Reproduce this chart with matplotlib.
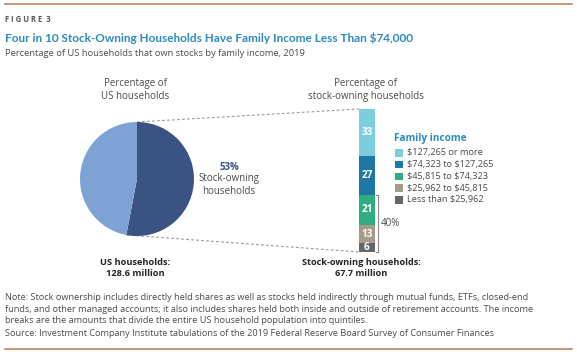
import numpy as np
import matplotlib
matplotlib.use("Agg")
import matplotlib.pyplot as plt

# data
pie_labels = ["Stock-owning households", "Other households"]
pie_values = [53, 47]
income_groups = ["Less than $25,962", "$25,962 to $45,815", "$45,815 to $74,323",
                 "$74,323 to $127,265", "$127,265 or more"]
income_shares = [6, 13, 21, 27, 33]
bracket_share = 40

pie_colors = ["#3b5383", "#7fa2d4"]
bar_colors = ["#65656d", "#a69b89", "#2fac80", "#1f77a7", "#7dcde0"]
blue = "#2b8bbd"
gray = "#4a4a4a"

plt.rcParams['font.family'] = ['Open Sans', 'DejaVu Sans']

W, H = 577, 356
fig = plt.figure(figsize=(W / 100, H / 100), dpi=100)

# overlay axes in pixel coords
ov = fig.add_axes([0, 0, 1, 1])
ov.set_xlim(0, W)
ov.set_ylim(H, 0)
ov.axis("off")

# header / footer rules
rule = "#bd8460"
ov.plot([5, 572], [4, 4], color=rule, lw=1.2)
ov.plot([5, 572], [349, 349], color=rule, lw=1.2)

ov.text(5, 20, "F I G U R E  3", fontsize=5.5, fontweight="bold", color="#555555", va="center")
ov.text(5, 38, "Four in 10 Stock-Owning Households Have Family Income Less Than $74,000",
        fontsize=8.5, fontweight="bold", color=blue, va="center", family="Lato",
        parse_math=False)
ov.text(5, 54, "Percentage of US households that own stocks by family income, 2019",
        fontsize=6.75, color=gray, va="center")

# pie
cx, cy, r = 137, 179, 57
pad = 1.25 * r
pax = fig.add_axes([(cx - pad) / W, (H - cy - pad) / H, 2 * pad / W, 2 * pad / H])
pax.pie(pie_values, colors=pie_colors, startangle=90, counterclock=False,
        wedgeprops=dict(linewidth=0))
pax.set_aspect("equal")

# stacked bar
bx0, bx1, by0, by1 = 359, 375, 109, 252
bax = fig.add_axes([bx0 / W, (H - by1) / H, (bx1 - bx0) / W, (by1 - by0) / H])
bottom = 0
for val, col in zip(income_shares, bar_colors):
    bax.bar(0, val, bottom=bottom, width=1, color=col, linewidth=0)
    bax.text(0, bottom + val / 2, str(val), ha="center", va="center", color="white",
             fontsize=7.2, fontweight="bold")
    bottom += val
bax.set_xlim(-0.5, 0.5)
bax.set_ylim(0, sum(income_shares))
bax.axis("off")

# dashed connectors
end_ang = np.deg2rad(90 - 360 * pie_values[0] / 100)
ov.plot([cx, bx0], [cy - r, by0], ls=(0, (2.5, 2)), color="#999999", lw=0.8)
ov.plot([cx + r * np.cos(end_ang), bx0], [cy - r * np.sin(end_ang), by1],
        ls=(0, (2.5, 2)), color="#999999", lw=0.8)

# pie labels
ov.text(135, 90, "Percentage of\nUS households", ha="center", va="center",
        fontsize=7, color=gray, linespacing=1.15)
ov.text(229, 168, f"{pie_values[0]}%", ha="center", va="center", fontsize=7,
        fontweight="bold", color=pie_colors[0])
ov.text(229, 185, "Stock-owning\nhouseholds", ha="center", va="center",
        fontsize=7, color=gray, linespacing=1.2)
ov.text(135, 268, "US households:\n128.6 million", ha="center", va="center",
        fontsize=6.7, fontweight="bold", color="#222222", linespacing=1.15)

ov.text(366, 90, "Percentage of\nstock-owning households", ha="center", va="center",
        fontsize=7, color=gray, linespacing=1.15)
ov.text(361, 268, "Stock-owning households:\n67.7 million", ha="center", va="center",
        fontsize=6.6, fontweight="bold", color="#222222", linespacing=1.15)

# 40% bracket
top40 = by1 - (by1 - by0) * bracket_share / 100
ov.plot([378, 378], [top40, by1], color="#888888", lw=0.8)
ov.plot([376, 378], [top40, top40], color="#888888", lw=0.8)
ov.plot([376, 378], [by1, by1], color="#888888", lw=0.8)
ov.text(381, (top40 + by1) / 2, f"{bracket_share}%", va="center", fontsize=7, color=gray)

# legend
ov.text(394, 138, "Family income", va="center", fontsize=7.2, fontweight="bold", color=blue)
for i, (lab, col) in enumerate(zip(income_groups[::-1], bar_colors[::-1])):
    y = 153 + i * 11.7
    ov.add_patch(plt.Rectangle((395, y - 3.8), 8, 7.6, color=col, lw=0))
    ov.text(407, y, lab, va="center", fontsize=6.6, color=gray, parse_math=False)

# notes
note = ("Note: Stock ownership includes directly held shares as well as stocks held indirectly through mutual funds, ETFs, closed-end\n"
        "funds, and other managed accounts; it also includes shares held both inside and outside of retirement accounts. The income\n"
        "breaks are the amounts that divide the entire US household population into quintiles.")
ov.text(5, 309, note, va="center", fontsize=6.55, color=gray, linespacing=1.3)
ov.text(5, 334, "Source: Investment Company Institute tabulations of the 2019 Federal Reserve Board Survey of Consumer Finances",
        va="center", fontsize=6.55, color=gray)

fig.savefig("out.png", dpi=100)
